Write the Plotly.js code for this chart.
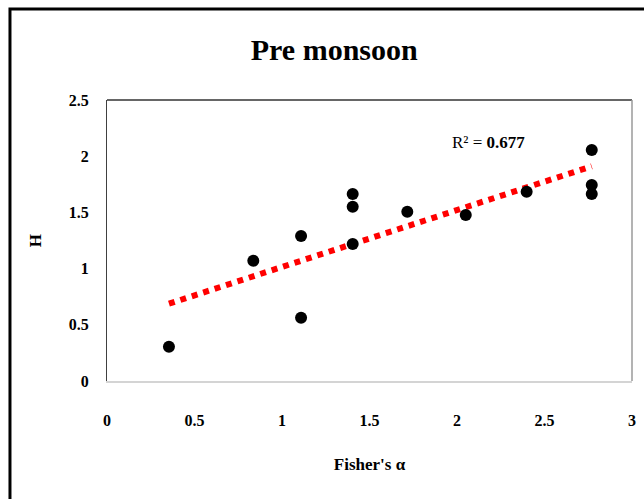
<!DOCTYPE html>
<html><head><meta charset="utf-8">
<script src="https://cdn.plot.ly/plotly-3.0.1.min.js"></script>
<style>html,body{margin:0;padding:0;background:#fff}</style>
</head><body><div id="chart" style="width:644px;height:499px"></div>
<script>
// Data
const fisherAlpha = [0.354, 0.836, 1.109, 1.109, 1.404, 1.404, 1.404, 1.716, 2.05, 2.398, 2.77, 2.77, 2.77];
const shannonH    = [0.305, 1.07,  1.29,  0.563, 1.664, 1.551, 1.219, 1.506, 1.477, 1.684, 2.055, 1.744, 1.664];
const xTickVals = [0, 0.5, 1, 1.5, 2, 2.5, 3];
const xTickText = ['0', '0.5', '1', '1.5', '2', '2.5', '3'];
const yTickVals = [0, 0.5, 1, 1.5, 2, 2.5];
const yTickText = ['0', '0.5', '1', '1.5', '2', '2.5'];
const rSquaredLabel = 'R² = <b>0.677</b>';

// Linear least-squares trendline from the data
const n = fisherAlpha.length;
const mx = fisherAlpha.reduce((a, b) => a + b, 0) / n;
const my = shannonH.reduce((a, b) => a + b, 0) / n;
let sxy = 0, sxx = 0;
for (let i = 0; i < n; i++) { sxy += (fisherAlpha[i] - mx) * (shannonH[i] - my); sxx += (fisherAlpha[i] - mx) ** 2; }
const slope = sxy / sxx, intercept = my - slope * mx;
const xMin = Math.min(...fisherAlpha), xMax = Math.max(...fisherAlpha);
const trendX = [xMin, xMax];
const trendY = trendX.map(x => intercept + slope * x);

const serif = 'Liberation Serif, Times New Roman, serif';

const traces = [
  { x: trendX, y: trendY, mode: 'lines', type: 'scatter', hoverinfo: 'skip',
    line: { color: '#ff0000', width: 6, dash: '6px,6px' } },
  { x: fisherAlpha, y: shannonH, mode: 'markers', type: 'scatter',
    marker: { color: '#000000', size: 12 } }
];

const layout = {
  width: 644, height: 499,
  margin: { l: 107, r: 12, t: 100, b: 118, autoexpand: false },
  paper_bgcolor: '#ffffff', plot_bgcolor: '#ffffff',
  showlegend: false,
  title: { text: 'Pre monsoon', x: 0.519, xref: 'container', xanchor: 'center',
           y: 0.9, yref: 'container', yanchor: 'middle',
           font: { family: serif, size: 30, weight: 'bold', color: '#000' } },
  xaxis: { range: [0, 3], tickvals: xTickVals, ticktext: xTickText, showgrid: false, zeroline: false,
           showline: true, linecolor: '#d4d4d4', linewidth: 2, ticks: '', ticklabelstandoff: 24,
           tickfont: { family: serif, size: 16, weight: 'bold', color: '#000' },
           title: { text: "Fisher's α", standoff: 30, font: { family: serif, size: 17, weight: 'bold', color: '#000' } } },
  yaxis: { range: [0, 2.5], tickvals: yTickVals, ticktext: yTickText, showgrid: false, zeroline: false,
           showline: true, linecolor: '#404040', linewidth: 1, ticks: '', ticklabelstandoff: 14,
           tickfont: { family: serif, size: 16, weight: 'bold', color: '#000' },
           title: { text: 'H', standoff: 22, font: { family: serif, size: 17, weight: 'bold', color: '#000' } } },
  shapes: [
    { type: 'line', xref: 'paper', yref: 'paper', x0: 0, x1: 1, y0: 1, y1: 1, line: { color: '#333', width: 1.5 } },
    { type: 'line', xref: 'paper', yref: 'paper', x0: 1, x1: 1, y0: 0, y1: 1, line: { color: '#9a9a9a', width: 1.5 } },
    { type: 'rect', xref: 'paper', yref: 'paper', x0: -0.1848, x1: 1.03, y0: -0.43, y1: 1.3238,
      line: { color: '#000', width: 3 }, fillcolor: 'rgba(0,0,0,0)' }
  ],
  annotations: [
    { x: 2.18, y: 2.126, xref: 'x', yref: 'y', text: rSquaredLabel, showarrow: false,
      font: { family: serif, size: 17, color: '#000' } }
  ]
};

Plotly.newPlot('chart', traces, layout, { staticPlot: true, displayModeBar: false });
</script>
</body></html>
